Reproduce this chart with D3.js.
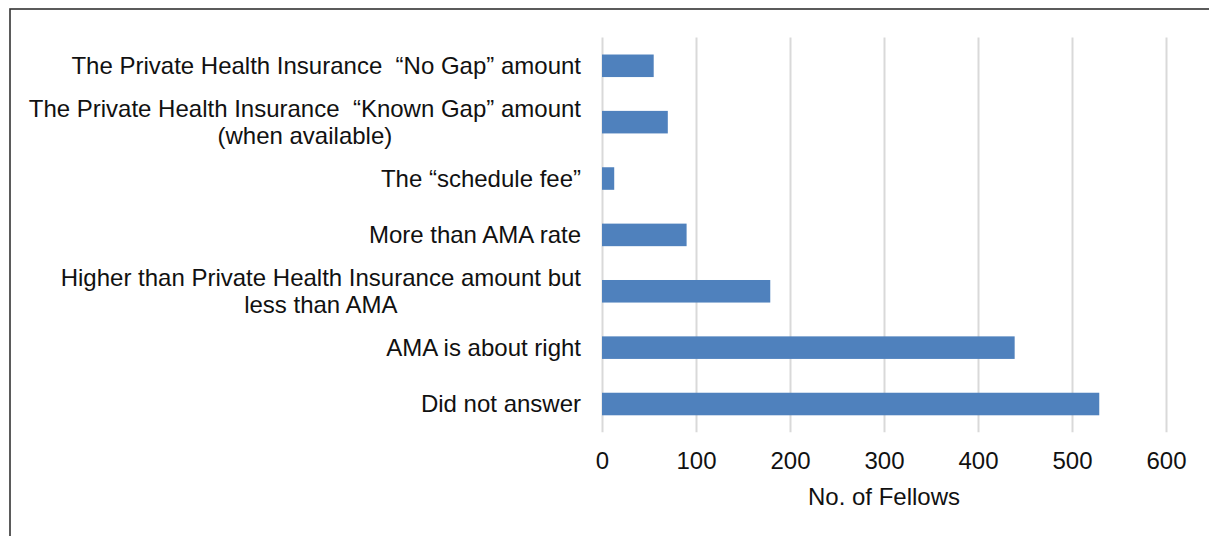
<!DOCTYPE html>
<meta charset="utf-8">
<style>
    body { margin: 0; background: #fff; }
    svg { display: block; }
    text { font-family: "Liberation Sans", Arial, sans-serif; fill: #111; white-space: pre; }
    .grid line { stroke: #d9d9d9; stroke-width: 2px; }
    .domain { display: none; }
</style>
<body>
    <svg width="1209" height="536"></svg>
    <script src="https://d3js.org/d3.v7.min.js"></script>
    <script>
        // category labels, "|" marks a line break
        const categories = [
            "The Private Health Insurance  \u201cNo Gap\u201d amount",
            "The Private Health Insurance  \u201cKnown Gap\u201d amount|(when available)",
            "The \u201cschedule fee\u201d",
            "More than AMA rate",
            "Higher than Private Health Insurance amount but|less than AMA",
            "AMA is about right",
            "Did not answer"
        ];
        const values = [55, 70, 13, 90, 179, 439, 529];
        const xTicks = [0, 100, 200, 300, 400, 500, 600];
        const xTitle = "No. of Fellows";

        const W = 1209,
            H = 536,
            plotLeft = 602, plotRight = 1166,
            plotTop = 37.6, plotBottom = 432.2,
            fontSize = 24;

        const svg = d3.select("svg");

        // outer frame (runs off the right and bottom of the picture)
        svg.append("rect")
            .attr("x", 10).attr("y", 9)
            .attr("width", W + 20).attr("height", H + 20)
            .attr("fill", "none")
            .attr("stroke", "#333")
            .attr("stroke-width", 1.6);

        const x = d3.scaleLinear().domain([0, 600]).range([plotLeft, plotRight]);
        const y = d3.scaleBand().domain(categories).range([plotTop, plotBottom])
            .paddingInner(0.6).paddingOuter(0.3);

        // gridlines
        svg.append("g")
            .attr("class", "grid")
            .attr("transform", "translate(0," + plotBottom + ")")
            .call(d3.axisBottom(x).tickValues(xTicks).tickSize(-(plotBottom - plotTop)).tickFormat(""));

        // tick labels
        const xAxis = svg.append("g")
            .attr("transform", "translate(0," + (plotBottom + 20) + ")")
            .call(d3.axisBottom(x).tickValues(xTicks).tickSize(0));
        xAxis.selectAll("text")
            .attr("dy", "0.71em")
            .attr("y", 0)
            .style("font-size", fontSize + "px");

        svg.append("text")
            .attr("x", (plotLeft + plotRight) / 2)
            .attr("y", 505)
            .attr("text-anchor", "middle")
            .style("font-size", fontSize + "px")
            .text(xTitle);

        // bars
        svg.selectAll(".bar")
            .data(values)
            .join("rect")
            .attr("class", "bar")
            .attr("x", x(0))
            .attr("y", (d, i) => y(categories[i]))
            .attr("width", d => x(d) - x(0))
            .attr("height", y.bandwidth())
            .attr("fill", "#4f81bd");

        // category labels: block right-aligned, lines centred inside the block
        const labelRight = 581,
            lineH = 27;
        const yAxis = svg.append("g")
            .attr("transform", "translate(" + labelRight + ",0)")
            .call(d3.axisLeft(y).tickSize(0).tickPadding(0));
        yAxis.selectAll(".tick line").remove();
        yAxis.selectAll(".tick text").each(function (d) {
            const t = d3.select(this).text(null)
                .attr("x", 0).attr("dy", null)
                .style("font-size", fontSize + "px")
                .attr("text-anchor", "middle");
            const lines = d.split("|");
            const spans = lines.map((s, i) => t.append("tspan")
                .attr("x", 0)
                .attr("y", (i - (lines.length - 1) / 2) * lineH)
                .attr("dy", "0.35em")
                .text(s));
            const w = d3.max(spans, s => s.node().getComputedTextLength());
            spans.forEach(s => s.attr("x", -w / 2));
        });
    </script>
</body>
